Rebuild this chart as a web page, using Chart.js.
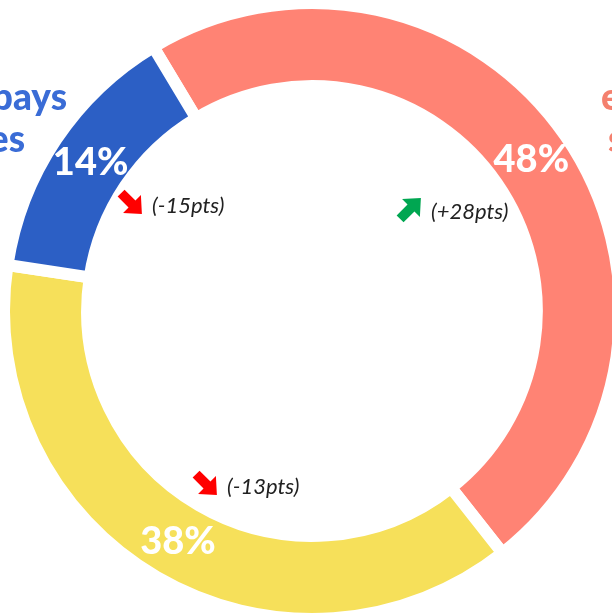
<!DOCTYPE html>
<html>
<head>
<meta charset="utf-8">
<script src="https://cdn.jsdelivr.net/npm/chart.js@4"></script>
<style>
  html, body { margin: 0; padding: 0; background: #fff; overflow: hidden; }
  #zone { position: absolute; left: 0; top: 0; width: 624px; height: 622px; }
</style>
</head>
<body>
<div id="zone"><canvas id="grafico" width="624" height="622"></canvas></div>
<script>
// repartition (en %) et evolution par rapport a la periode precedente
var categorias = ['Sur place', 'En France', 'Autres pays'];
var valores = [48, 38, 14];
var cambios = ['(+28pts)', '(-13pts)', '(-15pts)'];
var tendencias = ['up', 'down', 'down'];
var colores = ['#FF8374', '#F6E05A', '#2C5FC5'];

// libelles exterieurs (en partie coupes par le bord)
var etiquetaIzq = ['Autres pays', 'et zones'];
var etiquetaDer = ['en France', 'sur site'];

//dibuja una flecha gruesa centrada en (x,y) girada segun el angulo
function flecha(ctx, x, y, ang, color){
    ctx.save();
    ctx.translate(x, y);
    ctx.rotate(ang);
    ctx.scale(1.4, 1.4);
    ctx.fillStyle = color;
    ctx.beginPath();
    ctx.moveTo(-10, -3.5);
    ctx.lineTo(1, -3.5);
    ctx.lineTo(1, -9);
    ctx.lineTo(11, 0);
    ctx.lineTo(1, 9);
    ctx.lineTo(1, 3.5);
    ctx.lineTo(-10, 3.5);
    ctx.closePath();
    ctx.fill();
    ctx.restore();
}

//plugin para los porcentajes, las flechas y los textos de los costados
var textos = {
    id: 'textos',
    afterDatasetsDraw(chart){
        var ctx = chart.ctx;
        var meta = chart.getDatasetMeta(0);
        var cx = meta.data[0].x, cy = meta.data[0].y;
        ctx.save();
        // porcentajes en el centro de cada arco
        ctx.fillStyle = '#fff';
        ctx.font = '900 38px Lato';
        ctx.textAlign = 'center';
        ctx.textBaseline = 'middle';
        meta.data.forEach(function(arc, i){
            var p = arc.tooltipPosition();
            ctx.fillText(valores[i] + '%', p.x, p.y);
        });
        // flechas y cambios en puntos
        var desp = [[98, -102], [-106, 173], [-181, -108]];
        ctx.font = 'italic 22px Lato';
        ctx.textAlign = 'left';
        for (var i = 0; i < cambios.length; i++) {
            var ax = cx + desp[i][0], ay = cy + desp[i][1];
            if (tendencias[i] === 'up') {
                flecha(ctx, ax, ay, -Math.PI / 4, '#00A651');
            } else {
                flecha(ctx, ax, ay, Math.PI / 4, '#FF0000');
            }
            ctx.fillStyle = '#222';
            ctx.fillText(cambios[i], ax + 21, ay + 3);
        }
        // etiquetas exteriores
        ctx.font = '900 37px Lato';
        ctx.fillStyle = '#3A6CD6';
        ctx.textAlign = 'right';
        ctx.fillText(etiquetaIzq[0], 67, 98);
        ctx.fillText(etiquetaIzq[1], 25, 140);
        ctx.fillStyle = '#F4806E';
        ctx.textAlign = 'left';
        ctx.fillText(etiquetaDer[0], 601, 98);
        ctx.fillText(etiquetaDer[1], 608, 140);
        ctx.restore();
    }
};

document.addEventListener('DOMContentLoaded', function(){
    var ctx = document.getElementById('grafico').getContext('2d');
    new Chart(ctx, {
        type: 'doughnut',
        data: {
            labels: categorias,
            datasets: [{
                data: valores,
                backgroundColor: colores,
                borderColor: '#fff',
                borderWidth: 12,
                borderJoinStyle: 'miter'
            }]
        },
        options: {
            responsive: false,
            animation: false,
            rotation: -31,
            radius: 308,
            cutout: '73%',
            layout: { padding: 0 },
            plugins: {
                legend: { display: false },
                tooltip: { enabled: false }
            }
        },
        plugins: [textos]
    });
});
</script>
</body>
</html>
